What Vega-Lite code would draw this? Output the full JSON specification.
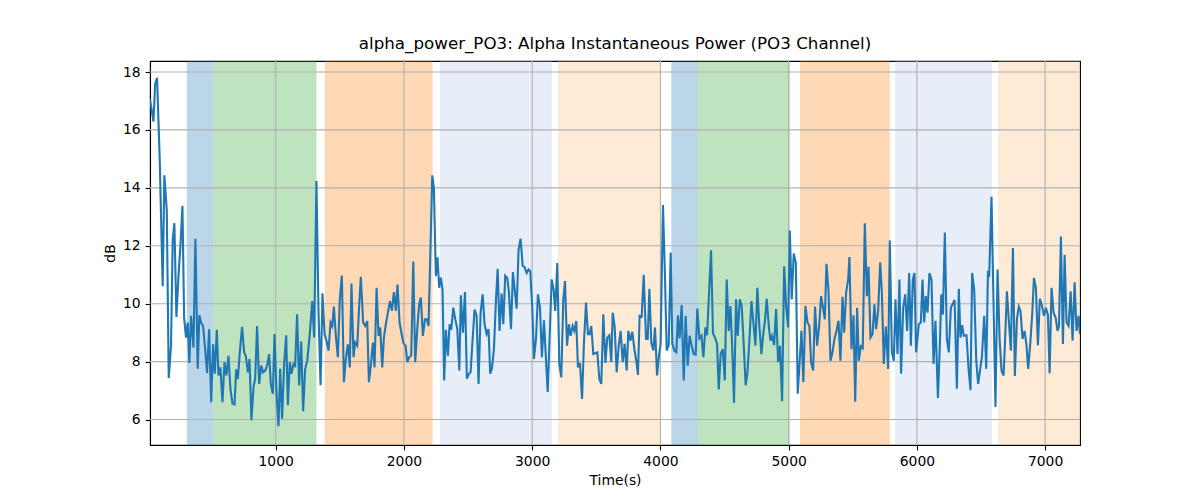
{
  "$schema": "https://vega.github.io/schema/vega-lite/v6.json",
  "width": 930,
  "height": 384,
  "autosize": {"type": "none"},
  "padding": {"left": 150, "top": 61, "right": 120, "bottom": 55},
  "title": {"text": "alpha_power_PO3: Alpha Instantaneous Power (PO3 Channel)"},
  "datasets": {
    "spans": [
      {"start": 307, "end": 515, "phase": "p1"},
      {"start": 515, "end": 1318, "phase": "p2"},
      {"start": 1383, "end": 2224, "phase": "p3"},
      {"start": 2281, "end": 3154, "phase": "p4"},
      {"start": 3201, "end": 4002, "phase": "p5"},
      {"start": 4085, "end": 4296, "phase": "p1"},
      {"start": 4296, "end": 5009, "phase": "p2"},
      {"start": 5089, "end": 5789, "phase": "p3"},
      {"start": 5831, "end": 6585, "phase": "p4"},
      {"start": 6634, "end": 7272, "phase": "p5"}
    ],
    "xgrid": [{"g": 1000}, {"g": 2000}, {"g": 3000}, {"g": 4000}, {"g": 5000}, {"g": 6000}, {"g": 7000}],
    "ygrid": [{"g": 6}, {"g": 8}, {"g": 10}, {"g": 12}, {"g": 14}, {"g": 16}, {"g": 18}],
    "power": [
      {"t":20,"v":17.06},{"t":47,"v":16.29},{"t":60,"v":17.58},{"t":75,"v":17.8},{"t":96,"v":14.95},{"t":119,"v":10.6},{"t":132,"v":14.43},{"t":151,"v":13.2},{"t":166,"v":7.43},{"t":184,"v":8.55},
      {"t":197,"v":12.2},{"t":210,"v":12.78},{"t":226,"v":9.54},{"t":242,"v":10.95},{"t":257,"v":11.98},{"t":273,"v":13.38},{"t":286,"v":9.52},{"t":301,"v":8.83},{"t":314,"v":9.35},{"t":327,"v":7.95},
      {"t":340,"v":9.58},{"t":359,"v":8.49},{"t":374,"v":12.24},{"t":392,"v":7.75},{"t":405,"v":9.6},{"t":418,"v":9.35},{"t":434,"v":9.23},{"t":450,"v":8.43},{"t":465,"v":7.6},{"t":481,"v":9.12},
      {"t":497,"v":6.6},{"t":512,"v":8.6},{"t":525,"v":7.58},{"t":541,"v":9.1},{"t":554,"v":7.52},{"t":569,"v":7.8},{"t":585,"v":6.6},{"t":601,"v":7.98},{"t":616,"v":7.52},{"t":632,"v":8.2},
      {"t":647,"v":7.06},{"t":663,"v":6.55},{"t":679,"v":6.52},{"t":692,"v":7.73},{"t":705,"v":7.4},{"t":720,"v":8.32},{"t":738,"v":9.2},{"t":754,"v":8.32},{"t":767,"v":8.2},{"t":783,"v":7.63},
      {"t":796,"v":8.09},{"t":811,"v":5.98},{"t":827,"v":7.12},{"t":840,"v":7.4},{"t":855,"v":9.23},{"t":871,"v":7.23},{"t":887,"v":7.86},{"t":902,"v":7.63},{"t":918,"v":7.69},{"t":933,"v":7.86},
      {"t":949,"v":8.26},{"t":962,"v":7.23},{"t":978,"v":6.89},{"t":991,"v":8.95},{"t":1006,"v":6.95},{"t":1022,"v":5.77},{"t":1035,"v":7.75},{"t":1050,"v":6.03},{"t":1066,"v":7.92},{"t":1082,"v":8.91},
      {"t":1095,"v":6.49},{"t":1110,"v":7.98},{"t":1123,"v":7.58},{"t":1139,"v":7.92},{"t":1152,"v":7.86},{"t":1167,"v":9.63},{"t":1183,"v":7.18},{"t":1199,"v":8.69},{"t":1214,"v":6.29},{"t":1230,"v":7.75},
      {"t":1246,"v":8.03},{"t":1266,"v":8.95},{"t":1285,"v":10.09},{"t":1300,"v":8.83},{"t":1318,"v":14.24},{"t":1334,"v":9.7},{"t":1350,"v":7.18},{"t":1365,"v":10.36},{"t":1381,"v":8.95},{"t":1396,"v":8.72},
      {"t":1412,"v":8.38},{"t":1428,"v":9.35},{"t":1441,"v":9.23},{"t":1454,"v":9.9},{"t":1469,"v":8.89},{"t":1485,"v":8.15},{"t":1500,"v":10.15},{"t":1516,"v":10.97},{"t":1532,"v":7.29},{"t":1547,"v":8.09},
      {"t":1563,"v":8.6},{"t":1578,"v":7.8},{"t":1591,"v":10.7},{"t":1607,"v":8.15},{"t":1620,"v":8.66},{"t":1636,"v":8.55},{"t":1651,"v":9.92},{"t":1664,"v":10.93},{"t":1682,"v":9.35},{"t":1698,"v":9.23},
      {"t":1714,"v":9.4},{"t":1727,"v":7.29},{"t":1742,"v":7.86},{"t":1758,"v":8.66},{"t":1771,"v":7.8},{"t":1787,"v":10.55},{"t":1802,"v":8.89},{"t":1815,"v":9.18},{"t":1831,"v":7.8},{"t":1844,"v":8.83},
      {"t":1859,"v":9.29},{"t":1875,"v":9.69},{"t":1891,"v":10.09},{"t":1906,"v":9.75},{"t":1922,"v":10.4},{"t":1937,"v":9.75},{"t":1950,"v":10.66},{"t":1966,"v":9.35},{"t":1982,"v":8.95},{"t":1997,"v":8.63},
      {"t":2013,"v":8.55},{"t":2026,"v":7.98},{"t":2041,"v":8.15},{"t":2057,"v":8.2},{"t":2073,"v":11.46},{"t":2088,"v":7.98},{"t":2104,"v":9.12},{"t":2119,"v":9.98},{"t":2132,"v":10.21},{"t":2148,"v":8.89},
      {"t":2164,"v":9.46},{"t":2179,"v":9.46},{"t":2192,"v":9.23},{"t":2221,"v":14.43},{"t":2234,"v":13.98},{"t":2249,"v":10.95},{"t":2262,"v":11.6},{"t":2275,"v":10.55},{"t":2288,"v":10.9},{"t":2301,"v":10.49},
      {"t":2314,"v":7.35},{"t":2327,"v":9.1},{"t":2343,"v":8.2},{"t":2356,"v":9.29},{"t":2369,"v":9.1},{"t":2385,"v":9.86},{"t":2400,"v":9.46},{"t":2416,"v":9.14},{"t":2432,"v":7.69},{"t":2444,"v":10.29},
      {"t":2460,"v":9.0},{"t":2476,"v":10.4},{"t":2491,"v":7.41},{"t":2507,"v":7.58},{"t":2520,"v":7.63},{"t":2535,"v":8.72},{"t":2551,"v":9.8},{"t":2567,"v":9.58},{"t":2582,"v":7.23},{"t":2598,"v":9.69},
      {"t":2614,"v":10.32},{"t":2629,"v":9.29},{"t":2645,"v":8.95},{"t":2660,"v":9.12},{"t":2673,"v":7.58},{"t":2686,"v":7.75},{"t":2702,"v":8.43},{"t":2718,"v":10.15},{"t":2731,"v":11.2},{"t":2746,"v":9.06},
      {"t":2762,"v":10.35},{"t":2775,"v":9.29},{"t":2790,"v":10.97},{"t":2806,"v":10.89},{"t":2819,"v":10.38},{"t":2835,"v":9.12},{"t":2850,"v":11.09},{"t":2866,"v":10.38},{"t":2879,"v":9.83},{"t":2894,"v":11.86},
      {"t":2910,"v":12.24},{"t":2926,"v":11.31},{"t":2941,"v":11.26},{"t":2957,"v":11.06},{"t":2972,"v":11.18},{"t":2985,"v":11.12},{"t":3001,"v":9.86},{"t":3014,"v":8.09},{"t":3030,"v":8.8},{"t":3045,"v":10.32},
      {"t":3061,"v":9.86},{"t":3076,"v":8.15},{"t":3092,"v":9.43},{"t":3105,"v":8.32},{"t":3121,"v":6.95},{"t":3136,"v":8.78},{"t":3152,"v":10.84},{"t":3167,"v":10.49},{"t":3180,"v":9.75},{"t":3196,"v":11.4},
      {"t":3212,"v":7.92},{"t":3227,"v":7.46},{"t":3243,"v":10.15},{"t":3256,"v":10.78},{"t":3272,"v":8.55},{"t":3287,"v":9.29},{"t":3300,"v":8.89},{"t":3316,"v":9.23},{"t":3329,"v":9.06},{"t":3344,"v":9.4},
      {"t":3357,"v":7.8},{"t":3373,"v":7.95},{"t":3389,"v":6.71},{"t":3404,"v":8.66},{"t":3420,"v":10.04},{"t":3435,"v":8.95},{"t":3448,"v":8.95},{"t":3461,"v":9.23},{"t":3477,"v":8.26},{"t":3493,"v":8.29},
      {"t":3508,"v":8.32},{"t":3524,"v":7.4},{"t":3539,"v":7.23},{"t":3555,"v":9.63},{"t":3571,"v":7.95},{"t":3586,"v":8.83},{"t":3602,"v":8.91},{"t":3617,"v":7.98},{"t":3628,"v":9.69},{"t":3643,"v":9.23},
      {"t":3659,"v":7.63},{"t":3675,"v":8.55},{"t":3690,"v":9.06},{"t":3706,"v":7.98},{"t":3721,"v":8.61},{"t":3737,"v":7.69},{"t":3750,"v":9.06},{"t":3766,"v":8.72},{"t":3781,"v":9.03},{"t":3797,"v":8.43},
      {"t":3812,"v":8.03},{"t":3825,"v":7.54},{"t":3838,"v":9.58},{"t":3854,"v":9.55},{"t":3870,"v":11.0},{"t":3888,"v":8.78},{"t":3901,"v":8.78},{"t":3914,"v":10.51},{"t":3929,"v":8.66},{"t":3945,"v":8.38},
      {"t":3958,"v":9.18},{"t":3974,"v":7.52},{"t":3989,"v":8.21},{"t":4002,"v":8.61},{"t":4020,"v":13.41},{"t":4036,"v":10.89},{"t":4049,"v":8.38},{"t":4065,"v":8.57},{"t":4080,"v":11.77},{"t":4093,"v":8.61},
      {"t":4109,"v":8.38},{"t":4124,"v":8.32},{"t":4137,"v":9.6},{"t":4150,"v":8.8},{"t":4166,"v":9.95},{"t":4182,"v":7.35},{"t":4197,"v":9.58},{"t":4213,"v":7.86},{"t":4228,"v":8.89},{"t":4244,"v":8.55},
      {"t":4260,"v":8.26},{"t":4275,"v":8.24},{"t":4288,"v":9.83},{"t":4304,"v":8.8},{"t":4320,"v":8.89},{"t":4335,"v":8.15},{"t":4351,"v":9.18},{"t":4364,"v":8.91},{"t":4379,"v":10.32},{"t":4395,"v":11.84},
      {"t":4410,"v":8.98},{"t":4426,"v":8.83},{"t":4442,"v":8.61},{"t":4455,"v":7.04},{"t":4470,"v":8.26},{"t":4486,"v":8.43},{"t":4502,"v":7.35},{"t":4517,"v":10.83},{"t":4533,"v":9.06},{"t":4546,"v":9.92},
      {"t":4561,"v":8.38},{"t":4574,"v":6.58},{"t":4590,"v":10.15},{"t":4603,"v":8.89},{"t":4619,"v":10.15},{"t":4634,"v":9.92},{"t":4650,"v":8.55},{"t":4665,"v":7.18},{"t":4678,"v":7.58},{"t":4694,"v":8.72},
      {"t":4710,"v":10.09},{"t":4725,"v":9.35},{"t":4741,"v":8.55},{"t":4756,"v":10.55},{"t":4772,"v":9.18},{"t":4788,"v":8.26},{"t":4803,"v":9.0},{"t":4814,"v":9.35},{"t":4829,"v":10.17},{"t":4845,"v":9.23},
      {"t":4858,"v":8.72},{"t":4871,"v":8.89},{"t":4887,"v":8.57},{"t":4902,"v":9.81},{"t":4918,"v":7.98},{"t":4933,"v":8.55},{"t":4949,"v":6.63},{"t":4965,"v":11.29},{"t":4980,"v":9.92},{"t":4996,"v":9.18},
      {"t":5009,"v":12.53},{"t":5024,"v":10.15},{"t":5040,"v":11.73},{"t":5056,"v":11.41},{"t":5071,"v":6.89},{"t":5087,"v":8.09},{"t":5100,"v":9.06},{"t":5115,"v":7.29},{"t":5131,"v":9.92},{"t":5147,"v":9.35},
      {"t":5162,"v":9.23},{"t":5175,"v":7.98},{"t":5191,"v":7.69},{"t":5206,"v":9.9},{"t":5222,"v":8.55},{"t":5238,"v":9.23},{"t":5253,"v":10.26},{"t":5266,"v":9.92},{"t":5282,"v":9.46},{"t":5295,"v":11.38},
      {"t":5311,"v":10.43},{"t":5326,"v":8.03},{"t":5342,"v":8.32},{"t":5357,"v":8.78},{"t":5373,"v":9.06},{"t":5389,"v":9.41},{"t":5404,"v":8.03},{"t":5420,"v":10.24},{"t":5433,"v":9.0},{"t":5448,"v":10.38},
      {"t":5464,"v":10.83},{"t":5474,"v":11.61},{"t":5490,"v":8.43},{"t":5506,"v":9.6},{"t":5519,"v":6.61},{"t":5534,"v":9.86},{"t":5547,"v":8.03},{"t":5563,"v":8.53},{"t":5578,"v":8.46},{"t":5594,"v":12.78},
      {"t":5610,"v":10.26},{"t":5623,"v":11.27},{"t":5638,"v":8.83},{"t":5654,"v":8.95},{"t":5669,"v":9.98},{"t":5682,"v":9.12},{"t":5698,"v":9.75},{"t":5714,"v":11.43},{"t":5727,"v":10.38},{"t":5742,"v":7.92},
      {"t":5758,"v":9.21},{"t":5776,"v":7.75},{"t":5789,"v":12.18},{"t":5805,"v":8.32},{"t":5820,"v":8.03},{"t":5833,"v":10.15},{"t":5849,"v":8.26},{"t":5864,"v":10.83},{"t":5877,"v":7.58},{"t":5893,"v":9.86},
      {"t":5909,"v":10.32},{"t":5924,"v":9.06},{"t":5940,"v":11.06},{"t":5953,"v":8.55},{"t":5968,"v":10.83},{"t":5981,"v":11.06},{"t":5994,"v":8.32},{"t":6015,"v":9.29},{"t":6031,"v":9.35},{"t":6044,"v":10.83},
      {"t":6057,"v":9.35},{"t":6070,"v":10.26},{"t":6083,"v":9.69},{"t":6098,"v":11.06},{"t":6114,"v":10.83},{"t":6130,"v":7.92},{"t":6145,"v":9.41},{"t":6164,"v":6.74},{"t":6179,"v":8.55},{"t":6190,"v":10.32},
      {"t":6203,"v":9.63},{"t":6218,"v":12.46},{"t":6234,"v":8.78},{"t":6249,"v":8.32},{"t":6265,"v":9.86},{"t":6278,"v":9.98},{"t":6294,"v":10.13},{"t":6312,"v":7.06},{"t":6327,"v":10.51},{"t":6340,"v":8.83},
      {"t":6353,"v":9.26},{"t":6366,"v":8.89},{"t":6387,"v":8.91},{"t":6403,"v":7.75},{"t":6418,"v":7.01},{"t":6431,"v":11.06},{"t":6447,"v":10.49},{"t":6463,"v":8.03},{"t":6478,"v":7.23},{"t":6494,"v":7.75},
      {"t":6507,"v":8.15},{"t":6525,"v":9.58},{"t":6541,"v":7.75},{"t":6554,"v":11.06},{"t":6564,"v":11.0},{"t":6582,"v":13.69},{"t":6598,"v":9.92},{"t":6613,"v":6.43},{"t":6629,"v":11.18},{"t":6645,"v":8.78},
      {"t":6660,"v":7.69},{"t":6676,"v":7.52},{"t":6686,"v":8.55},{"t":6702,"v":10.43},{"t":6717,"v":9.41},{"t":6733,"v":8.38},{"t":6749,"v":11.92},{"t":6764,"v":7.5},{"t":6780,"v":9.46},{"t":6795,"v":9.9},
      {"t":6808,"v":9.75},{"t":6824,"v":8.78},{"t":6840,"v":9.06},{"t":6855,"v":8.55},{"t":6868,"v":7.75},{"t":6884,"v":8.61},{"t":6900,"v":9.69},{"t":6913,"v":10.89},{"t":6928,"v":10.55},{"t":6944,"v":8.57},
      {"t":6959,"v":10.17},{"t":6975,"v":9.94},{"t":6991,"v":9.58},{"t":7006,"v":9.86},{"t":7022,"v":9.6},{"t":7035,"v":7.6},{"t":7050,"v":10.55},{"t":7066,"v":9.69},{"t":7082,"v":9.52},{"t":7097,"v":9.06},
      {"t":7108,"v":9.23},{"t":7123,"v":12.32},{"t":7139,"v":8.61},{"t":7152,"v":11.69},{"t":7167,"v":9.35},{"t":7183,"v":9.23},{"t":7199,"v":10.43},{"t":7214,"v":8.72},{"t":7230,"v":10.74},{"t":7245,"v":9.06},
      {"t":7261,"v":9.58},{"t":7272,"v":8.95}
    ]
  },
  "layer": [
    {
      "data": {"name": "spans"},
      "mark": {"type": "rect", "opacity": 0.3, "strokeWidth": 0, "clip": true},
      "encoding": {
        "x": {"field": "start", "type": "quantitative"},
        "x2": {"field": "end"},
        "color": {
          "field": "phase",
          "type": "nominal",
          "scale": {"domain": ["p1", "p2", "p3", "p4", "p5"], "range": ["#1f77b4", "#2ca02c", "#ff7f0e", "#aec7e8", "#ffbb78"]},
          "legend": null
        }
      }
    },
    {
      "data": {"name": "xgrid"},
      "mark": {"type": "rule", "color": "#b0b0b0", "strokeWidth": 1.1},
      "encoding": {"x": {"field": "g", "type": "quantitative"}}
    },
    {
      "data": {"name": "ygrid"},
      "mark": {"type": "rule", "color": "#b0b0b0", "strokeWidth": 1.1},
      "encoding": {"y": {"field": "g", "type": "quantitative"}}
    },
    {
      "data": {"name": "power"},
      "mark": {"type": "line", "color": "#1f77b4", "strokeWidth": 2.1, "clip": true},
      "encoding": {
        "x": {
          "field": "t",
          "type": "quantitative",
          "title": "Time(s)",
          "scale": {"domain": [20, 7272], "nice": false, "zero": false},
          "axis": {"values": [1000, 2000, 3000, 4000, 5000, 6000, 7000], "format": "d"}
        },
        "y": {
          "field": "v",
          "type": "quantitative",
          "title": "dB",
          "scale": {"domain": [5.12, 18.38], "nice": false, "zero": false},
          "axis": {"values": [6, 8, 10, 12, 14, 16, 18]}
        }
      }
    }
  ],
  "config": {
    "font": "DejaVu Sans",
    "view": {"stroke": "black", "strokeWidth": 1.1},
    "axis": {
      "grid": false,
      "domainColor": "black",
      "domainWidth": 1.1,
      "tickColor": "black",
      "tickWidth": 1.1,
      "tickSize": 4.9,
      "labelPadding": 4.9,
      "labelColor": "black",
      "labelFontSize": 13.9,
      "titleColor": "black",
      "titleFontSize": 13.9,
      "titleFontWeight": "normal",
      "titlePadding": 5
    },
    "title": {"fontSize": 16.7, "fontWeight": "normal", "color": "black", "offset": 8}
  }
}
